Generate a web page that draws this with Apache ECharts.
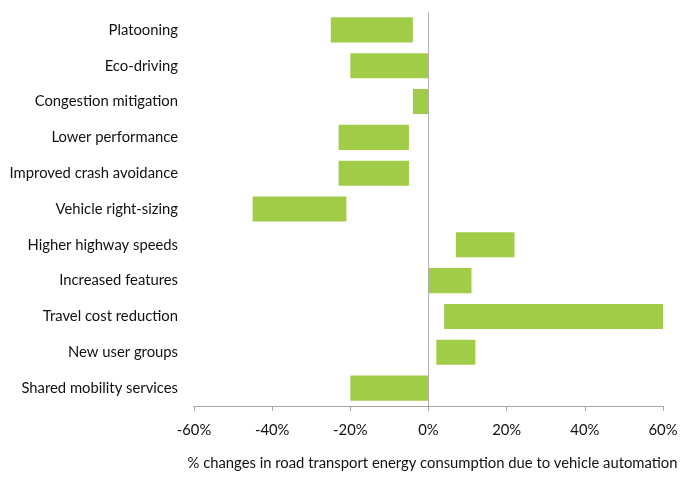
<!DOCTYPE html>
<html>
<head>
<meta charset="utf-8">
<script src="https://cdn.jsdelivr.net/npm/echarts@6/dist/echarts.min.js"></script>
<style>html,body{margin:0;padding:0;background:#fff}#c{width:700px;height:489px}</style>
</head>
<body>
<div id="c"></div>
<script>
const categories = ["Platooning","Eco-driving","Congestion mitigation","Lower performance","Improved crash avoidance","Vehicle right-sizing","Higher highway speeds","Increased features","Travel cost reduction","New user groups","Shared mobility services"];
const lowValues  = [-25,-20,-4,-23,-23,-45, 7, 0, 4, 2,-20];
const highValues = [ -4,  0, 0, -5, -5,-21,22,11,60,12,  0];
const xTicks = [-60,-40,-20,0,20,40,60];

const data = categories.map((c,i)=>[i, lowValues[i], highValues[i]]);
const chart = echarts.init(document.getElementById('c'), null, {renderer:'canvas'});
const font = 'Lato, "Open Sans", sans-serif';
chart.setOption({
  animation:false,
  grid:{left:194,right:37,top:12,bottom:83},
  xAxis:{
    type:'value', min:xTicks[0], max:xTicks[xTicks.length-1], interval:20,
    axisLine:{show:true,onZero:false,lineStyle:{color:'#a6a6a6',width:1}},
    axisTick:{show:true,length:5,lineStyle:{color:'#a6a6a6'}},
    splitLine:{show:false},
    axisLabel:{formatter:v=>v+'%',color:'#111',fontSize:14.8,fontFamily:font,margin:17},
    name:'% changes in road transport energy consumption due to vehicle automation',
    nameLocation:'middle', nameGap:50,
    nameTextStyle:{color:'#111',fontSize:14.8,fontFamily:font,padding:[0,0,0,8]}
  },
  yAxis:{
    type:'category', data:categories, inverse:true,
    axisLine:{show:false}, axisTick:{show:false},
    axisLabel:{color:'#111',fontSize:14.8,fontFamily:font,margin:16}
  },
  series:[{
    type:'custom',
    encode:{x:[1,2],y:0},
    data:data,
    renderItem:function(params,api){
      const cat = api.value(0);
      const p1 = api.coord([api.value(1),cat]);
      const p2 = api.coord([api.value(2),cat]);
      const h = api.size([0,1])[1]*0.7;
      return {type:'rect',shape:{x:p1[0],y:p1[1]-h/2,width:p2[0]-p1[0],height:h},style:{fill:'#a0cc48'}};
    },
    markLine:{
      silent:true, symbol:'none', label:{show:false},
      lineStyle:{color:'#b0b0b0',width:1,type:'solid'},
      data:[{xAxis:0}]
    }
  }]
});
</script>
</body>
</html>
